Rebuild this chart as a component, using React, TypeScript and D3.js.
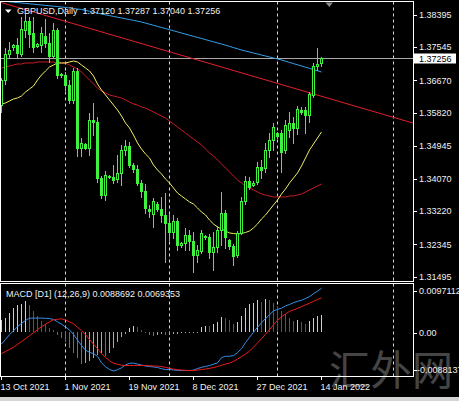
import React from "react";
import * as d3 from "d3";

const W = 459;
const H = 401;
const FONT = "'Liberation Sans', Arial, sans-serif";

const dates = [
  "2021-10-13","2021-10-14","2021-10-15","2021-10-17","2021-10-18","2021-10-19","2021-10-20","2021-10-21","2021-10-22","2021-10-24",
  "2021-10-25","2021-10-26","2021-10-27","2021-10-28","2021-10-29","2021-10-31","2021-11-01","2021-11-02","2021-11-03","2021-11-04",
  "2021-11-05","2021-11-07","2021-11-08","2021-11-09","2021-11-10","2021-11-11","2021-11-12","2021-11-14","2021-11-15","2021-11-16",
  "2021-11-17","2021-11-18","2021-11-19","2021-11-21","2021-11-22","2021-11-23","2021-11-24","2021-11-25","2021-11-26","2021-11-28",
  "2021-11-29","2021-11-30","2021-12-01","2021-12-02","2021-12-03","2021-12-05","2021-12-06","2021-12-07","2021-12-08","2021-12-09",
  "2021-12-10","2021-12-12","2021-12-13","2021-12-14","2021-12-15","2021-12-16","2021-12-17","2021-12-19","2021-12-20","2021-12-21",
  "2021-12-22","2021-12-23","2021-12-24","2021-12-26","2021-12-27","2021-12-28","2021-12-29","2021-12-30","2021-12-31","2022-01-02",
  "2022-01-03","2022-01-04","2022-01-05","2022-01-06","2022-01-07","2022-01-09","2022-01-10","2022-01-11","2022-01-12","2022-01-13",
  "2022-01-14",
];

const opens = [
  1.36022,1.36681,1.37367,1.37551,1.37604,1.37367,1.38000,1.38237,1.37920,1.37578,
  1.37604,1.37841,1.37657,1.37314,1.38000,1.36813,1.36813,1.36550,1.36154,1.36919,
  1.34889,1.34994,1.34889,1.35627,1.35574,1.34098,1.33650,1.34150,1.34124,1.34071,
  1.34230,1.34836,1.34941,1.34440,1.34335,1.33966,1.33755,1.33280,1.33149,1.33412,
  1.33280,1.33122,1.32911,1.32674,1.32964,1.32331,1.32384,1.32595,1.32437,1.32068,
  1.32173,1.32569,1.32542,1.32147,1.32279,1.32727,1.33175,1.32463,1.32305,1.32068,
  1.32648,1.33491,1.34019,1.33913,1.33992,1.34388,1.34361,1.34836,1.35100,1.35284,
  1.35284,1.34836,1.35363,1.35548,1.35416,1.35890,1.35890,1.35759,1.36286,1.37051,
  1.37120,
];
const highs = [
  1.36734,1.37525,1.37683,1.37630,1.37789,1.38342,1.38421,1.38342,1.38342,1.37657,
  1.38079,1.38290,1.37920,1.38184,1.38052,1.36866,1.36892,1.36681,1.36998,1.36998,
  1.35152,1.35020,1.35811,1.36075,1.35706,1.34150,1.34282,1.34177,1.34440,1.34704,
  1.34968,1.35100,1.35047,1.34493,1.34440,1.34045,1.33940,1.33386,1.33570,1.33465,
  1.33597,1.33702,1.33149,1.33122,1.33043,1.32410,1.32780,1.32727,1.32674,1.32331,
  1.32727,1.32595,1.32621,1.32674,1.32832,1.33729,1.33254,1.32490,1.32358,1.32700,
  1.33597,1.34150,1.34124,1.34019,1.34520,1.34572,1.35020,1.35284,1.35548,1.35311,
  1.35363,1.35627,1.35838,1.35706,1.35996,1.35970,1.35970,1.36365,1.37130,1.37525,
  1.37287,
];
const lows = [
  1.35838,1.36576,1.37288,1.37472,1.37261,1.37314,1.37815,1.37551,1.37420,1.37551,
  1.37420,1.37551,1.37156,1.37261,1.36734,1.36761,1.36418,1.36075,1.36075,1.34678,
  1.34678,1.34862,1.34704,1.35231,1.33992,1.33570,1.33518,1.34098,1.33966,1.33992,
  1.33913,1.34704,1.34388,1.34256,1.33913,1.33597,1.33175,1.33070,1.32806,1.33228,
  1.32938,1.31883,1.32463,1.32516,1.32200,1.32279,1.32200,1.32200,1.31620,1.31883,
  1.32120,1.32490,1.31989,1.31672,1.32147,1.32331,1.32252,1.32226,1.31804,1.32015,
  1.32621,1.33412,1.33808,1.33887,1.33940,1.34098,1.34256,1.34651,1.34836,1.35152,
  1.34256,1.34757,1.35179,1.35020,1.35258,1.35785,1.35284,1.35574,1.36233,1.36945,
  1.37040,
];
const closes = [
  1.36681,1.37367,1.37472,1.37604,1.37393,1.38026,1.38237,1.37894,1.37551,1.37630,
  1.37920,1.37657,1.37314,1.38000,1.36813,1.36840,1.36550,1.36154,1.36919,1.34889,
  1.35020,1.34889,1.35627,1.35574,1.34098,1.33650,1.34177,1.34124,1.34045,1.34230,
  1.34836,1.34941,1.34440,1.34335,1.33966,1.33755,1.33307,1.33228,1.33491,1.33280,
  1.33122,1.32911,1.32674,1.32964,1.32331,1.32384,1.32595,1.32437,1.32068,1.32200,
  1.32648,1.32542,1.32147,1.32279,1.32727,1.33175,1.32542,1.32305,1.32041,1.32648,
  1.33491,1.34019,1.33860,1.33966,1.34388,1.34309,1.34836,1.35100,1.35442,1.35205,
  1.34783,1.35495,1.35548,1.35416,1.35917,1.35838,1.35759,1.36312,1.37051,1.37103,
  1.37256,
];

const maYellow = [
  1.36049,1.36075,1.36128,1.36180,1.36207,1.36260,1.36365,1.36444,1.36523,1.36681,
  1.36813,1.36919,1.37024,1.37077,1.37130,1.37130,1.37130,1.37156,1.37182,1.37156,
  1.37077,1.36998,1.36919,1.36787,1.36576,1.36418,1.36286,1.36154,1.36022,1.35890,
  1.35732,1.35548,1.35416,1.35231,1.35020,1.34862,1.34730,1.34625,1.34440,1.34309,
  1.34203,1.34071,1.33966,1.33834,1.33702,1.33623,1.33544,1.33465,1.33412,1.33307,
  1.33201,1.33122,1.32990,1.32885,1.32806,1.32753,1.32700,1.32648,1.32634,1.32621,
  1.32634,1.32661,1.32700,1.32780,1.32885,1.33017,1.33122,1.33254,1.33386,1.33518,
  1.33676,1.33808,1.33966,1.34098,1.34230,1.34414,1.34625,1.34836,1.34994,1.35152,
  1.35311,
];
const maRed = [
  1.36998,1.37024,1.37051,1.37077,1.37103,1.37103,1.37130,1.37130,1.37130,1.37156,
  1.37156,1.37156,1.37156,1.37156,1.37130,1.37130,1.37130,1.37077,1.37024,1.36971,
  1.36892,1.36787,1.36681,1.36576,1.36471,1.36391,1.36339,1.36286,1.36260,1.36233,
  1.36207,1.36154,1.36101,1.36049,1.36022,1.35970,1.35943,1.35890,1.35838,1.35785,
  1.35732,1.35680,1.35600,1.35521,1.35442,1.35363,1.35284,1.35205,1.35126,1.35047,
  1.34968,1.34862,1.34757,1.34678,1.34572,1.34467,1.34361,1.34256,1.34150,1.34045,
  1.33966,1.33887,1.33834,1.33781,1.33729,1.33676,1.33650,1.33623,1.33597,1.33597,
  1.33597,1.33597,1.33623,1.33623,1.33650,1.33676,1.33729,1.33781,1.33834,1.33887,
  1.33940,
];
const maBlue = [
  1.38764,1.38754,1.38743,1.38733,1.38722,1.38711,1.38701,1.38690,1.38680,1.38669,
  1.38659,1.38648,1.38638,1.38627,1.38617,1.38606,1.38593,1.38580,1.38566,1.38553,
  1.38540,1.38516,1.38493,1.38469,1.38445,1.38421,1.38400,1.38379,1.38358,1.38337,
  1.38316,1.38295,1.38274,1.38253,1.38232,1.38210,1.38181,1.38152,1.38123,1.38095,
  1.38066,1.38037,1.38008,1.37979,1.37950,1.37920,1.37891,1.37862,1.37833,1.37804,
  1.37775,1.37746,1.37717,1.37688,1.37659,1.37630,1.37599,1.37567,1.37536,1.37504,
  1.37472,1.37446,1.37420,1.37393,1.37367,1.37340,1.37314,1.37288,1.37261,1.37235,
  1.37209,1.37177,1.37145,1.37114,1.37082,1.37051,1.37019,1.36987,1.36956,1.36924,
  1.36892,
];

const macdMain = [
  -0.00232,-0.00138,-0.00045,0.00035,0.00115,0.00182,0.00242,0.00288,0.00288,0.00288,
  0.00288,0.00284,0.00278,0.00262,0.00214,0.00166,0.00111,0.00051,-0.00037,-0.00152,
  -0.00258,-0.00354,-0.00397,-0.00423,-0.00477,-0.00609,-0.00684,-0.00742,-0.00770,-0.00746,
  -0.00708,-0.00650,-0.00617,-0.00613,-0.00632,-0.00652,-0.00672,-0.00682,-0.00690,-0.00702,
  -0.00726,-0.00742,-0.00742,-0.00750,-0.00758,-0.00762,-0.00762,-0.00762,-0.00754,-0.00722,
  -0.00698,-0.00680,-0.00662,-0.00634,-0.00609,-0.00503,-0.00477,-0.00477,-0.00463,-0.00403,
  -0.00324,-0.00204,-0.00097,0.00005,0.00105,0.00196,0.00278,0.00354,0.00433,0.00463,
  0.00487,0.00533,0.00561,0.00597,0.00624,0.00646,0.00680,0.00718,0.00776,0.00828,
  0.0088692,
];
const macdSignal = [
  -0.00423,-0.00381,-0.00340,-0.00296,-0.00238,-0.00182,-0.00125,-0.00065,-0.00005,0.00059,
  0.00115,0.00164,0.00214,0.00254,0.00264,0.00274,0.00248,0.00214,0.00174,0.00105,
  0.00037,-0.00045,-0.00140,-0.00234,-0.00324,-0.00419,-0.00499,-0.00565,-0.00613,-0.00636,
  -0.00656,-0.00662,-0.00662,-0.00662,-0.00662,-0.00662,-0.00662,-0.00666,-0.00670,-0.00674,
  -0.00682,-0.00698,-0.00718,-0.00734,-0.00746,-0.00752,-0.00758,-0.00762,-0.00762,-0.00752,
  -0.00742,-0.00732,-0.00718,-0.00702,-0.00682,-0.00656,-0.00632,-0.00613,-0.00579,-0.00533,
  -0.00483,-0.00433,-0.00374,-0.00294,-0.00210,-0.00125,-0.00035,0.00055,0.00154,0.00244,
  0.00314,0.00370,0.00423,0.00453,0.00483,0.00519,0.00553,0.00587,0.00623,0.00662,
  0.0069353,
];
const macdHist = [
  0.00259,0.00299,0.00398,0.00498,0.00558,0.00578,0.00637,0.00558,0.00438,0.00339,
  0.00239,0.00179,0.00080,0.00040,-0.00060,-0.00120,-0.00199,-0.00319,-0.00418,-0.00518,
  -0.00628,-0.00618,-0.00578,-0.00518,-0.00458,-0.00418,-0.00478,-0.00418,-0.00319,-0.00199,
  -0.00100,-0.00040,0.00080,0.00120,0.00100,0.00040,-0.00020,-0.00060,-0.00062,-0.00058,
  -0.00040,-0.00060,-0.00056,-0.00040,-0.00030,-0.00020,-0.00018,-0.00016,-0.00014,-0.00010,
  0.00100,0.00131,0.00120,0.00165,0.00219,0.00319,0.00299,0.00245,0.00165,0.00211,
  0.00331,0.00484,0.00564,0.00598,0.00643,0.00618,0.00663,0.00643,0.00598,0.00530,
  0.00430,0.00365,0.00299,0.00239,0.00259,0.00219,0.00179,0.00231,0.00299,0.00331,
  0.00351,
];

const priceTicks = [1.38395, 1.37545, 1.3667, 1.3582, 1.34945, 1.3407, 1.3322, 1.32345, 1.31495];
const macdTickLabels = ["0.0097112", "0.00", "-0.0088137"];
const macdMax = 0.0097112;
const macdMin = -0.0088137;
const timeLabelIndex = [0, 16, 32, 48, 64, 80];
const timeLabels = ["13 Oct 2021", "1 Nov 2021", "19 Nov 2021", "8 Dec 2021", "27 Dec 2021", "14 Jan 2022"];
const monthStartIndex = [16, 42, 69, 98];
const trendIndex = [0, 80];
const trendPrice = [1.38722, 1.36252];
const bidPrice = 1.37256;
const titleText = "GBPUSD,Daily  1.37120 1.37287 1.37040 1.37256";
const macdTitle = "MACD [D1] (12,26,9) 0.0088692 0.0069353";
const watermark = ["汇", "外", "网"];

export default function App() {
  const left = 0.5, right = 413.5;
  const mainTop = 1.5, mainBot = 281.5, subTop = 283.5, subBot = 376.5;

  const x = d3.scaleLinear().domain([0, 80]).range([1.5, 321.5]);
  const y = d3.scaleLinear().domain([1.31495, 1.38395]).range([276.7, 15]);
  const ym = d3.scaleLinear().domain([macdMin, macdMax]).range([376.5, 284]);
  const trend = d3.scaleLinear().domain(trendIndex).range(trendPrice);

  const mkLine = (vals: number[], sc: (v: number) => number) =>
    d3.line<number>().x((_, i) => x(i)).y((v) => sc(v))(vals) || "";

  const green = "#3ef23e";
  const candles = dates.map((d, i) => {
    const o = opens[i], c = closes[i], h = highs[i], l = lows[i];
    const cx = Math.round(x(i) - 0.5);
    const yh = Math.round(y(h)), yl = Math.round(y(l));
    const top = Math.round(y(Math.max(o, c)));
    const bot = Math.round(y(Math.min(o, c)));
    const bh = Math.max(1, bot - top + 1);
    const bull = c > o;
    return (
      <g key={d}>
        <rect x={cx} y={yh} width={1} height={Math.max(1, yl - yh + 1)} fill={green} />
        <rect x={cx - 1} y={top} width={3} height={bh} fill={green} />
        {bull && bh > 2 ? <rect x={cx} y={top + 1} width={1} height={bh - 2} fill="#000" /> : null}
      </g>
    );
  });

  const zeroY = Math.round(ym(0));
  const hist = macdHist.map((v, i) => {
    const prev = i > 0 ? macdHist[i - 1] : v - 1e-9;
    let col: string;
    if (v >= 0) col = v >= prev ? "#e8e800" : "#d42020";
    else col = v < prev ? "#3f8f3f" : "#7cc87c";
    const yv = Math.round(ym(v));
    const y0 = Math.min(yv, zeroY), y1 = Math.max(yv, zeroY);
    return <rect key={"h" + i} x={Math.round(x(i) - 0.5)} y={y0} width={1} height={Math.max(1, y1 - y0)} fill={col} />;
  });

  const tLeft = x.invert(left), tRight = x.invert(right);
  const bidY = Math.round(y(bidPrice)) + 0.5;

  const macdLabelY = [ym(macdMax) + 7, ym(0) + 0.5, ym(macdMin) - 6.5];

  return (
    <svg width={W} height={H} style={{ position: "absolute", left: 0, top: 0, display: "block" }} fontFamily={FONT}>
      <defs>
        <clipPath id="mainClip"><rect x={1} y={2} width={412} height={279} /></clipPath>
        <clipPath id="subClip"><rect x={1} y={284} width={412} height={92} /></clipPath>
      </defs>
      <rect x={0} y={0} width={W} height={H} fill="#000" />

      {/* watermark */}
      {watermark.map((ch, k) => (
        <text key={ch} x={329 + k * 41.5} y={385} fontSize={41} fill="#ffffff" opacity={0.27}
          fontFamily="'Noto Sans CJK SC', sans-serif">{ch}</text>
      ))}

      {/* grid dashed month lines */}
      {monthStartIndex.map((mi) => (
        <g key={"g" + mi}>
          <line x1={x(mi)} x2={x(mi)} y1={mainTop} y2={mainBot} stroke="#d8d8d8" strokeDasharray="3,3" />
          <line x1={x(mi)} x2={x(mi)} y1={subTop} y2={subBot} stroke="#d8d8d8" strokeDasharray="3,3" />
        </g>
      ))}

      {/* main panel */}
      <g clipPath="url(#mainClip)">
        <line x1={left} x2={right} y1={bidY} y2={bidY} stroke="#a8a8a8" />
        <path d={mkLine(maBlue, y)} fill="none" stroke="#3aa2e8" strokeWidth={1} />
        <path d={mkLine(maRed, y)} fill="none" stroke="#c41c28" strokeWidth={1} />
        <line x1={left} x2={right} y1={y(trend(tLeft))} y2={y(trend(tRight))} stroke="#e0202c" strokeWidth={1} />
        <path d={mkLine(maYellow, y)} fill="none" stroke="#eeee66" strokeWidth={1} />
        <g shapeRendering="crispEdges">{candles}</g>
      </g>

      {/* MACD panel */}
      <g clipPath="url(#subClip)">
        <g shapeRendering="crispEdges">{hist}</g>
        <path d={mkLine(macdMain, ym)} fill="none" stroke="#3a8fe8" strokeWidth={1} />
        <path d={mkLine(macdSignal, ym)} fill="none" stroke="#e82020" strokeWidth={1} />
      </g>

      {/* borders */}
      <g shapeRendering="crispEdges" fill="none" stroke="#ffffff">
        <rect x={left} y={mainTop} width={right - left} height={mainBot - mainTop} />
        <rect x={left} y={subTop} width={right - left} height={subBot - subTop} />
      </g>

      {/* title */}
      <path d="M5,9.5 L11.5,9.5 L8.25,13 Z" fill="#ffffff" />
      <text x={17} y={14} fontSize={9} fill="#f0f0f0" style={{ whiteSpace: "pre" }}>{titleText}</text>
      <text x={6} y={296.5} fontSize={9} fill="#f0f0f0">{macdTitle}</text>

      {/* shift marker */}
      <path d="M325.5,2.5 L333,2.5 L329.25,7 Z" fill="#8a8a8a" />

      {/* price axis */}
      <g shapeRendering="crispEdges">
        {priceTicks.map((p) => (
          <line key={"pt" + p} x1={413} x2={417} y1={Math.round(y(p)) + 0.5} y2={Math.round(y(p)) + 0.5} stroke="#ffffff" />
        ))}
      </g>
      {priceTicks.map((p) => (
        <text key={"pl" + p} x={419} y={y(p) + 3.2} fontSize={9} fill="#f0f0f0">{p.toFixed(5)}</text>
      ))}
      <rect x={414} y={bidY - 5} width={42} height={10} fill="#ffffff" />
      <text x={419} y={bidY + 3.2} fontSize={9} fill="#000000">{bidPrice.toFixed(5)}</text>

      {/* macd axis */}
      <g shapeRendering="crispEdges">
        {macdLabelY.map((ly, k) => (
          <line key={"mt" + k} x1={413} x2={417} y1={Math.round(ly) + 0.5} y2={Math.round(ly) + 0.5} stroke="#ffffff" />
        ))}
      </g>
      {macdLabelY.map((ly, k) => (
        <text key={"ml" + k} x={k === 2 ? 417 : 419} y={ly + 3.2} fontSize={9} fill="#f0f0f0">{macdTickLabels[k]}</text>
      ))}

      {/* time axis */}
      <g shapeRendering="crispEdges">
        {timeLabelIndex.map((ti) => (
          <line key={"tt" + ti} x1={Math.round(x(ti)) - 0.5} x2={Math.round(x(ti)) - 0.5} y1={377} y2={380} stroke="#ffffff" />
        ))}
      </g>
      {timeLabelIndex.map((ti, k) => (
        <text key={"tl" + ti} x={x(ti) - 1} y={390} fontSize={9} fill="#f0f0f0">{timeLabels[k]}</text>
      ))}

      <rect x={0} y={397} width={W} height={4} fill="#d4d4d4" />
    </svg>
  );
}
